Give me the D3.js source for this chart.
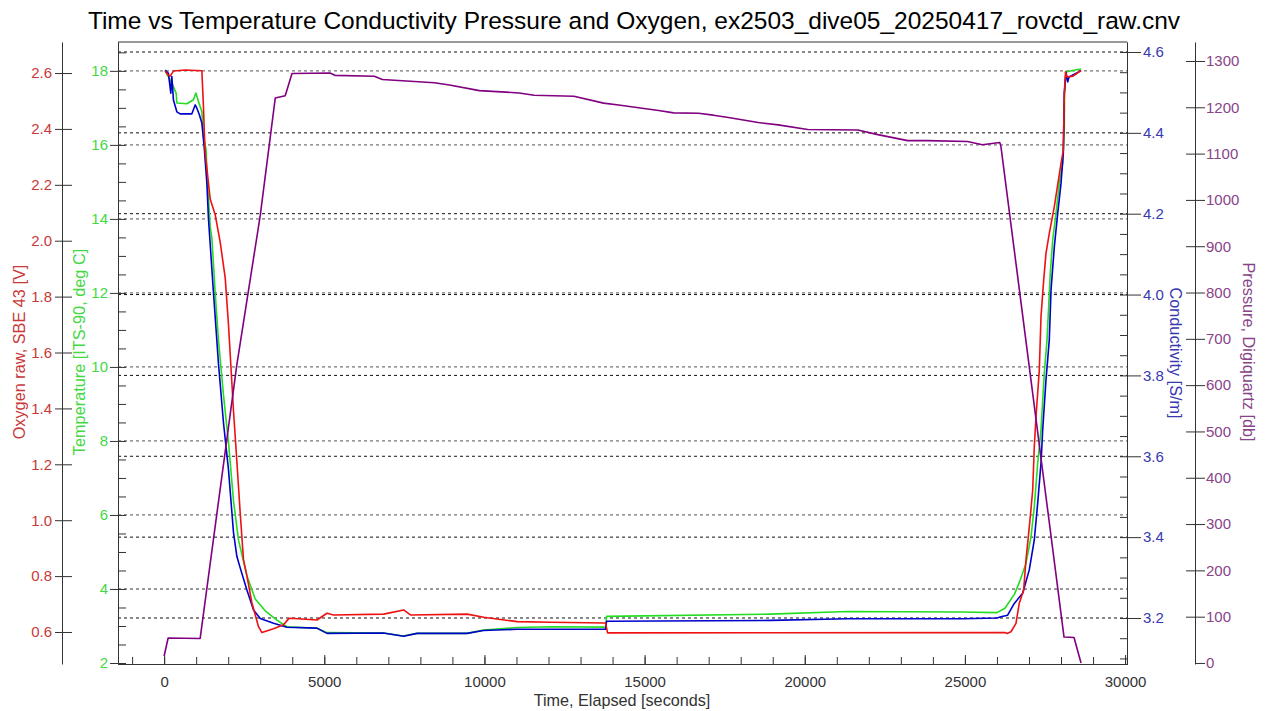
<!DOCTYPE html>
<html>
<head>
<meta charset="utf-8">
<script src="https://cdn.jsdelivr.net/npm/d3@7"></script>
<style>
body{margin:0;background:#fff;}
svg{display:block;font-family:Arial,"Liberation Sans",sans-serif;}
</style>
</head>
<body>
<svg id="chart" width="1267" height="711"></svg>
<script>
"use strict";

var titleText = "Time vs Temperature Conductivity Pressure and Oxygen, ex2503_dive05_20250417_rovctd_raw.cnv";

// [elapsed seconds, value]
var temperature = [[31,18.0],[241,17.67],[375,17.40],[397,17.13],[709,17.11],[916,17.22],[991,17.40],[1072,17.17],
    [1125,17.04],[1178,16.90],[1228,16.22],[1313,15.86],[1334,15.24],[1438,13.79],[1491,13.48],[1594,12.0],
    [1697,10.72],[1853,9.24],[2009,7.97],[2166,6.38],[2322,5.32],[2584,4.36],[2844,3.73],[3156,3.41],[3522,3.16],
    [3834,2.98],[4772,2.94],[5084,2.82],[6844,2.81],[7469,2.73],[7897,2.80],[9459,2.80],[9969,2.89],[11022,2.96],
    [12063,2.98],[13781,2.97],[13813,3.26],[18938,3.32],[21344,3.39],[24875,3.38],[26000,3.36],[26250,3.48],
    [26547,3.86],[26719,4.22],[26906,4.69],[27063,5.41],[27166,6.22],[27272,7.40],[27375,8.30],[27478,9.83],
    [27563,10.73],[27666,12.54],[27741,13.43],[27844,14.15],[27947,14.96],[28053,15.51],[28103,16.41],
    [28110,17.40],[28156,17.97],[28366,18.01],[28625,18.05]];

var conductivity = [[31,4.555],[134,4.547],[209,4.498],[241,4.539],[291,4.481],[397,4.452],[500,4.447],[866,4.447],
    [969,4.469],[1022,4.461],[1103,4.444],[1178,4.424],[1250,4.366],[1334,4.276],[1384,4.188],[1541,4.004],
    [1697,3.829],[1853,3.683],[2009,3.567],[2166,3.411],[2272,3.352],[2375,3.324],[2584,3.269],[2791,3.220],
    [3000,3.199],[3416,3.187],[3834,3.177],[4772,3.175],[5084,3.162],[6844,3.163],[7478,3.155],[7897,3.162],
    [9459,3.162],[9969,3.169],[11022,3.172],[13781,3.172],[13813,3.192],[18938,3.194],[21344,3.198],
    [24938,3.198],[26000,3.200],[26125,3.203],[26334,3.207],[26541,3.236],[26803,3.261],[27009,3.319],
    [27166,3.393],[27272,3.484],[27375,3.583],[27428,3.665],[27531,3.789],[27634,3.888],[27688,4.011],
    [27791,4.118],[27897,4.201],[28000,4.275],[28072,4.350],[28103,4.498],[28156,4.550],[28209,4.526],
    [28250,4.538],[28625,4.554]];

var oxygen = [[31,2.607],[125,2.593],[188,2.589],[291,2.607],[656,2.611],[1178,2.608],[1228,2.479],[1250,2.403],
    [1281,2.317],[1438,2.149],[1594,2.093],[1750,1.995],[1906,1.868],[2009,1.700],[2166,1.391],[2272,1.208],
    [2375,1.026],[2478,0.858],[2584,0.801],[2741,0.704],[2947,0.619],[3053,0.598],[3416,0.612],[3728,0.626],
    [3884,0.647],[3938,0.649],[4772,0.643],[5084,0.667],[5291,0.661],[6853,0.664],[7478,0.679],[7688,0.661],
    [9459,0.664],[9978,0.653],[11022,0.637],[12063,0.635],[13781,0.632],[13844,0.597],[26250,0.598],
    [26313,0.595],[26438,0.601],[26594,0.631],[26697,0.703],[26834,0.750],[26906,0.858],[26959,0.917],
    [27041,1.013],[27116,1.108],[27166,1.263],[27219,1.370],[27322,1.537],[27375,1.728],[27459,1.859],
    [27531,1.955],[27634,2.026],[27791,2.122],[28000,2.277],[28072,2.324],[28103,2.528],[28141,2.604],
    [28188,2.586],[28375,2.589],[28625,2.609]];

var pressure = [[0,15],[125,54],[1125,53],[2272,645],[3000,966],[3469,1220],[3781,1225],[3991,1273],[5178,1274],
    [5331,1269],[6563,1267],[6813,1260],[8438,1253],[8906,1248],[9844,1236],[11084,1231],[11550,1226],
    [12794,1224],[13719,1209],[14188,1205],[15438,1193],[15906,1188],[16681,1187],[17147,1183],[17616,1178],
    [18547,1167],[19169,1162],[20094,1152],[21656,1151],[22281,1141],[23213,1128],[23834,1128],[25078,1126],
    [25544,1119],[26088,1124],[26125,1115],[28094,56],[28406,55],[28625,0]];

var xTicks = [0,5000,10000,15000,20000,25000,30000];
var oxygenTicks = [0.6,0.8,1.0,1.2,1.4,1.6,1.8,2.0,2.2,2.4,2.6];
var tempTicks = [2,4,6,8,10,12,14,16,18];
var condTicks = [3.2,3.4,3.6,3.8,4.0,4.2,4.4,4.6];
var pressTicks = [0,100,200,300,400,500,600,700,800,900,1000,1100,1200,1300];

var plot = {left:118, right:1127, top:42, bottom:664};
var colors = {oxy:"#ee1111", oxyText:"#c83838", temp:"#22dd22", tempText:"#44d844",
    cond:"#0000cc", condText:"#3838b0", press:"#800080", pressText:"#884488"};

var svg = d3.select("#chart");

var x = d3.scaleLinear().domain([-1440, 30060]).range([plot.left, plot.right]);
var yO = d3.scaleLinear().domain([0.4855, 2.711]).range([plot.bottom, plot.top]);
var yT = d3.scaleLinear().domain([1.973, 18.78]).range([plot.bottom, plot.top]);
var yC = d3.scaleLinear().domain([3.0862, 4.6247]).range([plot.bottom, plot.top]);
var yP = d3.scaleLinear().domain([-2.2, 1341]).range([plot.bottom, plot.top]);

var styleAxis = (g, color) => {
    g.attr("font-family", null).attr("font-size", 15);
    g.selectAll(".domain").attr("stroke", "#333");
    g.selectAll(".tick line").attr("stroke", "#333");
    g.selectAll(".tick text").attr("fill", color);
};

// grid lines, temperature (grey) and conductivity (black); none on the bottom frame
svg.append("g").selectAll("line").data(tempTicks.filter(d => d > 2)).enter().append("line")
    .attr("x1", plot.left).attr("x2", plot.right)
    .attr("y1", d => yT(d)).attr("y2", d => yT(d))
    .attr("stroke", "#777").attr("stroke-width", 1.3).attr("stroke-dasharray", "3,3");
svg.append("g").selectAll("line").data(condTicks).enter().append("line")
    .attr("x1", plot.left).attr("x2", plot.right)
    .attr("y1", d => yC(d)).attr("y2", d => yC(d))
    .attr("stroke", "#111").attr("stroke-dasharray", "3,3");

// frame top
svg.append("line").attr("x1", plot.left).attr("x2", plot.right)
    .attr("y1", plot.top).attr("y2", plot.top).attr("stroke", "#333");

// x axis
var xMinor = svg.append("g").attr("transform", `translate(0,${plot.bottom})`)
    .call(d3.axisBottom(x).tickValues(d3.range(-1000, 30001, 1000)).tickSize(-7).tickSizeOuter(0).tickFormat(""));
styleAxis(xMinor, "#000");
var xAxis = svg.append("g").attr("transform", `translate(0,${plot.bottom})`)
    .call(d3.axisBottom(x).tickValues(xTicks).tickSize(-9).tickSizeOuter(0).tickPadding(12).tickFormat(d3.format("d")));
styleAxis(xAxis, "#333");

// oxygen axis
var oAxis = svg.append("g").attr("transform", "translate(62,0)")
    .call(d3.axisLeft(yO).tickValues(oxygenTicks).tickSize(7).tickSizeOuter(0).tickPadding(3).tickFormat(d3.format(".1f")));
oAxis.selectAll(".tick line").attr("x1", 10);
styleAxis(oAxis, colors.oxyText);

// temperature axis
var tMinor = svg.append("g").attr("transform", `translate(${plot.left},0)`)
    .call(d3.axisRight(yT).tickValues(d3.range(2, 18.51, 0.5)).tickSize(8).tickSizeOuter(0).tickFormat(""));
styleAxis(tMinor, "#000");
var tAxis = svg.append("g").attr("transform", `translate(${plot.left},0)`)
    .call(d3.axisLeft(yT).tickValues(tempTicks).tickSize(8).tickSizeOuter(0).tickPadding(2).tickFormat(d3.format("d")));
styleAxis(tAxis, colors.tempText);

// conductivity axis
var cMinor = svg.append("g").attr("transform", `translate(${plot.right},0)`)
    .call(d3.axisLeft(yC).tickValues(d3.range(3.1, 4.626, 0.05)).tickSize(7).tickSizeOuter(0).tickFormat(""));
styleAxis(cMinor, "#000");
var cAxis = svg.append("g").attr("transform", `translate(${plot.right},0)`)
    .call(d3.axisRight(yC).tickValues(condTicks).tickSize(14).tickSizeOuter(0).tickPadding(2).tickFormat(d3.format(".1f")));
styleAxis(cAxis, colors.condText);

// pressure axis
var pAxis = svg.append("g").attr("transform", "translate(1195,0)")
    .call(d3.axisRight(yP).tickValues(pressTicks).tickSize(10).tickSizeOuter(0).tickPadding(1).tickFormat(d3.format("d")));
pAxis.selectAll(".tick line").attr("x1", d => d === 0 ? 0 : -9);
styleAxis(pAxis, colors.pressText);

// data lines
var series = [
    {data: temperature, y: yT, color: colors.temp},
    {data: conductivity, y: yC, color: colors.cond},
    {data: oxygen, y: yO, color: colors.oxy},
    {data: pressure, y: yP, color: colors.press}
];
series.forEach(s => {
    var line = d3.line().x(d => x(d[0])).y(d => s.y(d[1]));
    svg.append("path").datum(s.data)
        .attr("d", line)
        .attr("fill", "none")
        .attr("stroke", s.color)
        .attr("stroke-width", 1.6)
        .attr("stroke-linejoin", "round");
});

// titles
svg.append("text").attr("x", 634).attr("y", 29).attr("text-anchor", "middle")
    .attr("font-size", 24.5).attr("fill", "#000").text(titleText);
svg.append("text").attr("x", 622).attr("y", 706).attr("text-anchor", "middle")
    .attr("font-size", 16.2).attr("fill", "#333").text("Time, Elapsed [seconds]");

var axisTitle = (label, px, py, angle, color) => {
    svg.append("text").attr("transform", `translate(${px},${py}) rotate(${angle})`)
        .attr("text-anchor", "middle").attr("font-size", 16.3).attr("fill", color).text(label);
};
axisTitle("Oxygen raw, SBE 43 [V]", 25, 352, -90, colors.oxyText);
axisTitle("Temperature [ITS-90, deg C]", 85, 352, -90, colors.tempText);
axisTitle("Conductivity [S/m]", 1170, 353, 90, colors.condText);
axisTitle("Pressure, Digiquartz [db]", 1243, 352, 90, colors.pressText);
</script>
</body>
</html>
